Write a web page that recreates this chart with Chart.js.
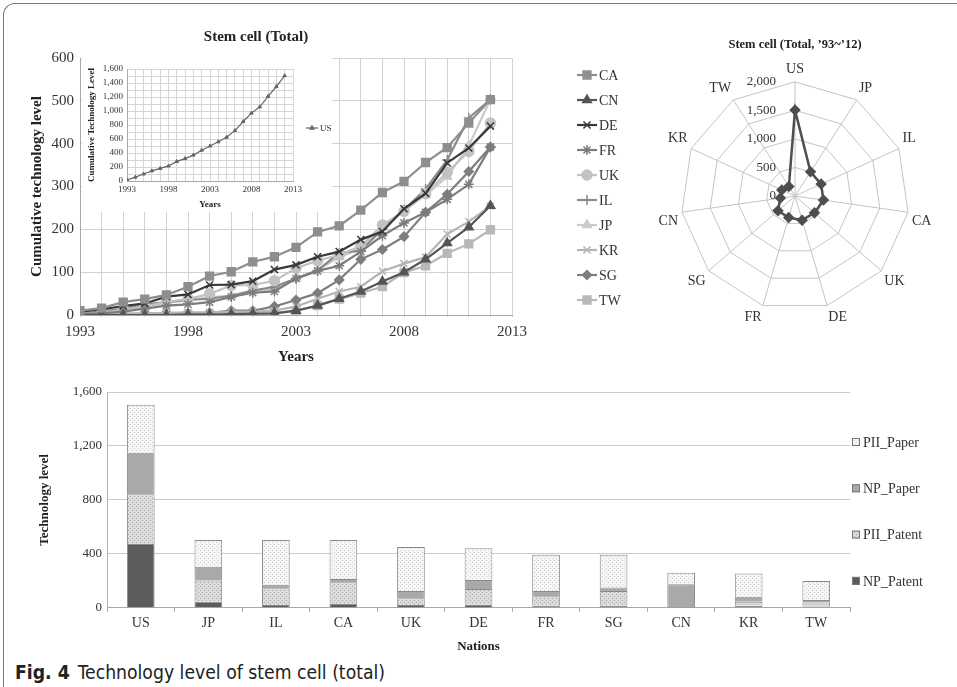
<!DOCTYPE html>
<html>
<head>
<meta charset="utf-8">
<title>Technology level of stem cell (total)</title>
<script src="https://cdn.jsdelivr.net/npm/chart.js@4.4.1/dist/chart.umd.min.js"></script>
<style>
    html, body { margin: 0; padding: 0; background: #fff; }
    body { position: relative; width: 957px; height: 687px; overflow: hidden; }
    .frame {
        position: absolute; left: 3px; top: 3px; width: 980px; height: 720px;
        border-top: 1.5px solid #7a7a7a; border-left: 1.5px solid #7a7a7a;
        border-top-left-radius: 12px; box-sizing: border-box;
    }
    .panel { position: absolute; }
    #insetPanel { background: #fff; }
    #caption {
        position: absolute; left: 15px; top: 660px; line-height: 24px;
        font-family: "Liberation Sans Narrow", "DejaVu Sans Condensed", "Open Sans", sans-serif;
        font-size: 19px; color: #222; white-space: nowrap; transform-origin: left center;
    }
    #caption b { margin-right: 8px; }
</style>
</head>
<body>
<div class="frame"></div>

<div class="panel" style="left:0;top:20px;width:640px;height:350px"><canvas id="lineChart"></canvas></div>
<div class="panel" id="insetPanel" style="left:82px;top:58px;width:250px;height:154px"><canvas id="insetChart"></canvas></div>
<div class="panel" style="left:560px;top:20px;width:397px;height:330px"><canvas id="radarChart"></canvas></div>
<div class="panel" style="left:0;top:370px;width:957px;height:290px"><canvas id="barChart"></canvas></div>

<div id="caption"><b>Fig. 4</b>Technology level of stem cell (total)</div>

<script>
// ---- data ----
const years = [1993, 1994, 1995, 1996, 1997, 1998, 1999, 2000, 2001, 2002,
               2003, 2004, 2005, 2006, 2007, 2008, 2009, 2010, 2011, 2012];

const caLevels = [10, 16, 30, 37, 47, 66, 91, 101, 124, 136, 158, 194, 208, 245, 286, 312, 356, 391, 448, 503];
const cnLevels = [0, 0, 0, 0, 0, 1, 1, 2, 3, 4, 10, 22, 38, 55, 78, 100, 130, 168, 205, 255];
const deLevels = [8, 13, 21, 27, 43, 48, 70, 71, 79, 106, 117, 136, 148, 176, 195, 248, 284, 355, 390, 441];
const frLevels = [2, 4, 8, 15, 22, 25, 30, 42, 52, 55, 85, 103, 115, 148, 185, 215, 240, 270, 305, 392];
const ukLevels = [2, 5, 12, 20, 30, 38, 49, 69, 70, 80, 109, 127, 140, 161, 210, 242, 283, 333, 382, 448];
const ilLevels = [3, 8, 15, 25, 30, 35, 38, 45, 57, 66, 85, 104, 145, 150, 200, 245, 294, 362, 460, 503];
const jpLevels = [2, 6, 12, 20, 28, 35, 42, 45, 57, 60, 86, 105, 135, 155, 205, 245, 280, 323, 395, 503];
const krLevels = [1, 2, 3, 4, 5, 6, 6, 8, 8, 10, 20, 38, 55, 66, 102, 120, 135, 189, 218, 254];
const sgLevels = [0, 1, 2, 3, 4, 4, 5, 10, 10, 20, 35, 51, 82, 130, 153, 183, 240, 282, 335, 392];
const twLevels = [0, 0, 0, 0, 0, 0, 0, 2, 2, 4, 10, 22, 37, 51, 66, 99, 115, 144, 166, 199];

const usLevels = [15, 55, 100, 145, 180, 215, 280, 320, 370, 440, 500, 560, 625, 720, 850, 970, 1060, 1210, 1350, 1505];

const lineCountries = ['CA', 'CN', 'DE', 'FR', 'UK', 'IL', 'JP', 'KR', 'SG', 'TW'];
const lineLevels = [caLevels, cnLevels, deLevels, frLevels, ukLevels, ilLevels, jpLevels, krLevels, sgLevels, twLevels];

const nations = ['US', 'JP', 'IL', 'CA', 'UK', 'DE', 'FR', 'SG', 'CN', 'KR', 'TW'];
const nationTotals = [1505, 503, 503, 503, 451, 441, 394, 394, 259, 254, 199];

const npPatent  = [473, 45, 20, 32, 20, 25, 15, 15, 1, 15, 10];
const piiPatent = [369, 157, 125, 157, 50, 115, 70, 110, 2, 30, 30];
const npPaper   = [307, 102, 25, 25, 55, 67, 40, 25, 172, 37, 17];
const piiPaper  = [356, 199, 333, 289, 326, 234, 269, 244, 84, 172, 142];

// ---- styles ----
const serif = '"Liberation Serif", "Times New Roman", serif';
Chart.defaults.font.family = serif;
Chart.defaults.color = '#333';
Chart.defaults.animation = false;

const lineStyles = {
    CA: { color: '#8e8e8e', marker: 'rect', radius: 5.5 },
    CN: { color: '#555555', marker: 'triangle', radius: 5 },
    DE: { color: '#383838', marker: 'crossRot', radius: 5 },
    FR: { color: '#7c7c7c', marker: 'star', radius: 5 },
    UK: { color: '#c2c2c2', marker: 'circle', radius: 5 },
    IL: { color: '#8a8a8a', marker: 'cross', radius: 5 },
    JP: { color: '#cacaca', marker: 'triangle', radius: 5 },
    KR: { color: '#b4b4b4', marker: 'crossRot', radius: 5 },
    SG: { color: '#7e7e7e', marker: 'rectRot', radius: 4.5 },
    TW: { color: '#b8b8b8', marker: 'rect', radius: 5.5 }
};

function toPoints(values) {
    return years.map((yr, i) => ({ x: yr, y: values[i] }));
}

function drawMarker(ctx, style, radius, x, y, color) {
    ctx.save();
    ctx.fillStyle = color;
    ctx.strokeStyle = color;
    ctx.lineWidth = 1.5;
    if (Chart.helpers && Chart.helpers.drawPoint) {
        Chart.helpers.drawPoint(ctx, { pointStyle: style, radius: radius, rotation: 0, borderWidth: 1.5 }, x, y);
    } else {
        ctx.fillRect(x - radius * 0.7, y - radius * 0.7, radius * 1.4, radius * 1.4);
    }
    ctx.restore();
}

// legend drawn as line + marker, like the spreadsheet original
function lineLegend(id, cfg) {
    return {
        id: id,
        afterDraw(chart) {
            const ctx = chart.ctx;
            ctx.save();
            ctx.font = cfg.font;
            ctx.textBaseline = 'middle';
            chart.data.datasets.forEach((ds, i) => {
                const y = cfg.y + i * cfg.spacing;
                ctx.strokeStyle = ds.borderColor;
                ctx.lineWidth = ds.borderWidth;
                ctx.beginPath();
                ctx.moveTo(cfg.x, y);
                ctx.lineTo(cfg.x + cfg.len, y);
                ctx.stroke();
                drawMarker(ctx, ds.pointStyle, ds.pointRadius, cfg.x + cfg.len / 2, y, ds.borderColor);
                ctx.fillStyle = '#333';
                ctx.fillText(ds.label, cfg.x + cfg.len + 2, y + 1);
            });
            ctx.restore();
        }
    };
}

// ---- main cumulative line chart ----
new Chart(document.getElementById('lineChart'), {
    type: 'line',
    data: {
        datasets: lineCountries.map((c, i) => ({
            label: c,
            data: toPoints(lineLevels[i]),
            borderColor: lineStyles[c].color,
            backgroundColor: lineStyles[c].color,
            pointBackgroundColor: lineStyles[c].color,
            pointBorderColor: lineStyles[c].color,
            pointStyle: lineStyles[c].marker,
            pointRadius: lineStyles[c].radius,
            pointBorderWidth: 1.5,
            borderWidth: 2.2,
            tension: 0
        }))
    },
    options: {
        responsive: true,
        maintainAspectRatio: false,
        layout: { padding: { left: 0, right: 128, top: 0, bottom: 0 } },
        plugins: {
            legend: { display: false },
            tooltip: { enabled: false },
            title: {
                display: true,
                text: 'Stem cell (Total)',
                color: '#222',
                font: { size: 15, weight: 'bold' },
                padding: { top: 8, bottom: 12 }
            }
        },
        scales: {
            x: {
                type: 'linear', min: 1993, max: 2013,
                ticks: {
                    stepSize: 1, maxTicksLimit: 25, autoSkip: false, maxRotation: 0, padding: 6,
                    font: { size: 15 },
                    callback: v => ((v - 1993) % 5 === 0 ? String(v) : '')
                },
                grid: { color: '#d2d2d2', drawTicks: true, tickLength: 2 },
                border: { color: '#a8a8a8' },
                title: { display: true, text: 'Years', color: '#222', font: { size: 15, weight: 'bold' }, padding: { top: 1, bottom: 4 } }
            },
            y: {
                min: 0, max: 600,
                ticks: { stepSize: 100, padding: 6, font: { size: 15 } },
                grid: { color: '#d2d2d2', drawTicks: false },
                border: { color: '#a8a8a8' },
                title: { display: true, text: 'Cumulative technology level', color: '#222', font: { size: 15, weight: 'bold' }, padding: { top: 28, bottom: 0 } },
                afterFit: scale => { scale.width = 80; }
            }
        }
    },
    plugins: [lineLegend('mainLegend', { x: 577, y: 55, spacing: 25, len: 20, font: '14px ' + serif })]
});

// ---- inset: US cumulative ----
new Chart(document.getElementById('insetChart'), {
    type: 'line',
    data: {
        datasets: [{
            label: 'US',
            data: toPoints(usLevels),
            borderColor: '#666',
            backgroundColor: '#666',
            pointStyle: 'triangle',
            pointRadius: 2,
            pointBorderWidth: 1,
            borderWidth: 1.2,
            tension: 0
        }]
    },
    options: {
        responsive: true,
        maintainAspectRatio: false,
        layout: { padding: { left: 0, right: 39, top: 11, bottom: 0 } },
        plugins: { legend: { display: false }, tooltip: { enabled: false } },
        scales: {
            x: {
                type: 'linear', min: 1993, max: 2013,
                ticks: {
                    stepSize: 1, maxTicksLimit: 25, autoSkip: false, maxRotation: 0, padding: 3.6,
                    font: { size: 9 },
                    callback: v => ((v - 1993) % 5 === 0 ? String(v) : '')
                },
                grid: { color: '#d6d6d6', drawTicks: false },
                border: { color: '#a8a8a8' },
                title: { display: true, text: 'Years', color: '#222', font: { size: 9, weight: 'bold' }, padding: { top: 0.6, bottom: 1.6 } }
            },
            y: {
                min: 0, max: 1600,
                ticks: {
                    stepSize: 100, maxTicksLimit: 20, autoSkip: false, padding: 4,
                    font: { size: 9 },
                    callback: v => (v % 200 === 0 ? v.toLocaleString('en-US') : '')
                },
                grid: { color: '#d6d6d6', drawTicks: false },
                border: { color: '#a8a8a8' },
                title: { display: true, text: 'Cumulative Technology Level', color: '#222', font: { size: 9, weight: 'bold' }, padding: { top: 4, bottom: 0 } },
                afterFit: scale => { scale.width = 45; }
            }
        }
    },
    plugins: [lineLegend('insetLegend', { x: 224, y: 70, spacing: 20, len: 12, font: '9px ' + serif })]
});

// ---- radar of totals ----
const radarExtras = {
    id: 'radarExtras',
    afterDraw(chart) {
        const ctx = chart.ctx;
        const r = chart.scales.r;
        ctx.save();
        ctx.fillStyle = '#222';
        ctx.textAlign = 'center';
        ctx.textBaseline = 'middle';
        ctx.font = 'bold 12.5px ' + serif;
        ctx.fillText('Stem cell (Total, \u201993~\u201912)', r.xCenter, 25);
        // tick labels sit left of the US spoke
        ctx.font = '13px ' + serif;
        ctx.fillStyle = '#333';
        ctx.textAlign = 'right';
        r.ticks.forEach(t => {
            const y = r.yCenter - r.getDistanceFromCenterForValue(t.value);
            ctx.fillText(t.value.toLocaleString('en-US'), r.xCenter - 19, y);
        });
        ctx.restore();
    }
};

new Chart(document.getElementById('radarChart'), {
    type: 'radar',
    data: {
        labels: nations,
        datasets: [{
            label: 'Total',
            data: nationTotals,
            borderColor: '#4e4e4e',
            backgroundColor: '#4e4e4e',
            pointBackgroundColor: '#4e4e4e',
            pointStyle: 'rectRot',
            pointRadius: 4,
            borderWidth: 2.5,
            fill: false
        }]
    },
    options: {
        responsive: true,
        maintainAspectRatio: false,
        layout: { padding: { left: 73, right: 0, top: 39, bottom: 21 } },
        plugins: { legend: { display: false }, tooltip: { enabled: false } },
        scales: {
            r: {
                min: 0, max: 2000,
                ticks: { stepSize: 500, display: false },
                grid: { color: '#c4c4c4' },
                angleLines: { color: '#c4c4c4' },
                pointLabels: { font: { size: 14 }, color: '#333', padding: 4 }
            }
        }
    },
    plugins: [radarExtras]
});

// ---- stacked bars by nation ----
function dotPattern(base, dot) {
    const c = document.createElement('canvas');
    c.width = 4;
    c.height = 4;
    const g = c.getContext('2d');
    g.fillStyle = base;
    g.fillRect(0, 0, 4, 4);
    g.fillStyle = dot;
    g.fillRect(0, 0, 1, 1);
    g.fillRect(2, 2, 1, 1);
    return g.createPattern(c, 'repeat');
}

const barSeries = [
    { label: 'NP_Patent', data: npPatent, fill: '#5c5c5c' },
    { label: 'PII_Patent', data: piiPatent, fill: dotPattern('#dcdcdc', '#a8a8a8') },
    { label: 'NP_Paper', data: npPaper, fill: '#a9a9a9' },
    { label: 'PII_Paper', data: piiPaper, fill: dotPattern('#f6f6f6', '#cdcdcd') }
];

const barLegend = {
    id: 'barLegend',
    afterDraw(chart) {
        const ctx = chart.ctx;
        const items = chart.data.datasets.slice().reverse();
        ctx.save();
        ctx.font = '14px ' + serif;
        ctx.textBaseline = 'middle';
        items.forEach((ds, i) => {
            const y = 72 + i * 46.3;
            ctx.fillStyle = ds.backgroundColor;
            ctx.fillRect(852, y - 4, 8, 8);
            ctx.strokeStyle = '#777';
            ctx.lineWidth = 1;
            ctx.strokeRect(852.5, y - 3.5, 7, 7);
            ctx.fillStyle = '#333';
            ctx.fillText(ds.label, 863, y + 1);
        });
        ctx.restore();
    }
};

new Chart(document.getElementById('barChart'), {
    type: 'bar',
    data: {
        labels: nations,
        datasets: barSeries.map(s => ({
            label: s.label,
            data: s.data,
            backgroundColor: s.fill,
            borderColor: '#8a8a8a',
            borderWidth: 1,
            categoryPercentage: 1,
            barPercentage: 0.41
        }))
    },
    options: {
        responsive: true,
        maintainAspectRatio: false,
        layout: { padding: { left: 0, right: 107, top: 22, bottom: 0 } },
        plugins: { legend: { display: false }, tooltip: { enabled: false } },
        scales: {
            x: {
                stacked: true,
                ticks: { padding: 3, font: { size: 14 } },
                grid: { drawOnChartArea: false, drawTicks: true, tickLength: 4, color: '#a8a8a8' },
                border: { color: '#a8a8a8' },
                title: { display: true, text: 'Nations', color: '#222', font: { size: 13, weight: 'bold' }, padding: { top: 3.8, bottom: 6 } }
            },
            y: {
                stacked: true,
                min: 0, max: 1600,
                ticks: { stepSize: 400, padding: 5, font: { size: 13 }, callback: v => v.toLocaleString('en-US') },
                grid: { color: '#cacaca', drawTicks: false },
                border: { color: '#b0b0b0' },
                title: { display: true, text: 'Technology level', color: '#222', font: { size: 13, weight: 'bold' }, padding: { top: 37, bottom: 0 } },
                afterFit: scale => { scale.width = 107; }
            }
        }
    },
    plugins: [barLegend]
});

// keep the caption at the width of the original line
const caption = document.getElementById('caption');
const capWidth = caption.getBoundingClientRect().width;
if (capWidth > 0) {
    caption.style.transform = 'scaleX(' + (370 / capWidth).toFixed(3) + ')';
}
</script>
</body>
</html>
